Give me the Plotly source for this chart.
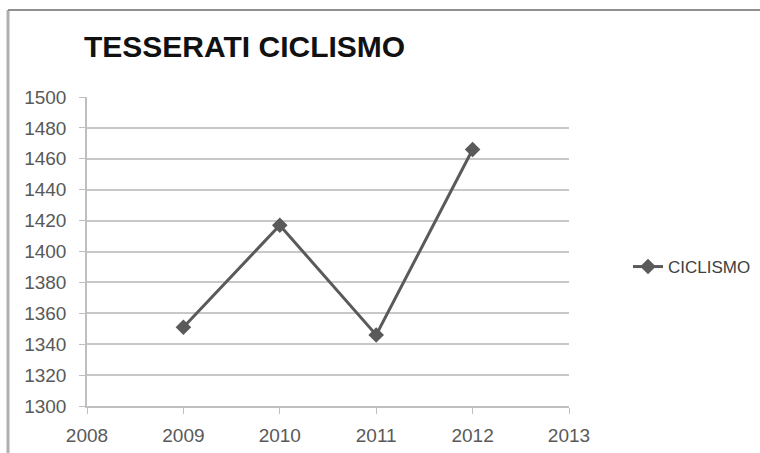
import plotly.graph_objects as go

years = [2009, 2010, 2011, 2012]
tesserati = [1351, 1417, 1346, 1466]
series_name = "CICLISMO"
title_text = "TESSERATI CICLISMO"
x_ticks = [2008, 2009, 2010, 2011, 2012, 2013]
y_ticks = list(range(1300, 1501, 20))

W, H = 760, 453
L, R, T, B = 87, 191, 97, 47
pw, ph = W - L - R, H - T - B

fig = go.Figure()
fig.add_trace(go.Scatter(
    x=years, y=tesserati, name=series_name, mode="lines+markers",
    line=dict(color="#5a5a5a", width=3),
    marker=dict(symbol="diamond", size=12, color="#5a5a5a"),
))

tick_font = dict(family="Liberation Sans, Arial, sans-serif", size=19, color="#595959")

fig.update_layout(
    width=W, height=H,
    margin=dict(l=L, r=R, t=T, b=B, autoexpand=False),
    paper_bgcolor="white", plot_bgcolor="white",
    showlegend=True,
    title=dict(
        text="<b>" + title_text + "</b>",
        font=dict(family="Liberation Sans, Arial, sans-serif", size=30, color="#111111"),
        xref="container", yref="container",
        x=84 / W, xanchor="left",
        y=1 - 36 / H, yanchor="top",
    ),
    legend=dict(
        x=(628 - L) / pw, xanchor="left",
        y=(H - B - 267) / ph, yanchor="middle",
        font=dict(family="Liberation Sans, Arial, sans-serif", size=17, color="#404040"),
        bgcolor="rgba(0,0,0,0)", itemwidth=30,
    ),
    xaxis=dict(
        range=[2008, 2013], tickvals=x_ticks, ticktext=[str(v) for v in x_ticks],
        showgrid=False, zeroline=False,
        showline=True, linecolor="#bfbfbf", linewidth=1.5,
        ticks="outside", ticklen=6, tickcolor="#bfbfbf",
        tickfont=tick_font, ticklabelstandoff=5,
    ),
    yaxis=dict(
        range=[1300, 1500], tickvals=y_ticks,
        showgrid=True, gridcolor="#c8c8c8", gridwidth=1.5,
        zeroline=False,
        showline=True, linecolor="#bfbfbf", linewidth=1.5,
        ticks="outside", ticklen=6, tickcolor="#bfbfbf",
        tickfont=tick_font, ticklabelstandoff=9,
    ),
    shapes=[
        dict(type="line", xref="paper", yref="paper",
             x0=(8 - L) / pw, x1=(8 - L) / pw, y0=(H - B - 10) / ph, y1=(H - B - 460) / ph,
             line=dict(color="#b0b0b0", width=3)),
        dict(type="line", xref="paper", yref="paper",
             x0=(8 - L) / pw, x1=(770 - L) / pw, y0=(H - B - 10) / ph, y1=(H - B - 10) / ph,
             line=dict(color="#909090", width=2)),
    ],
)

fig.write_html("out.html")
